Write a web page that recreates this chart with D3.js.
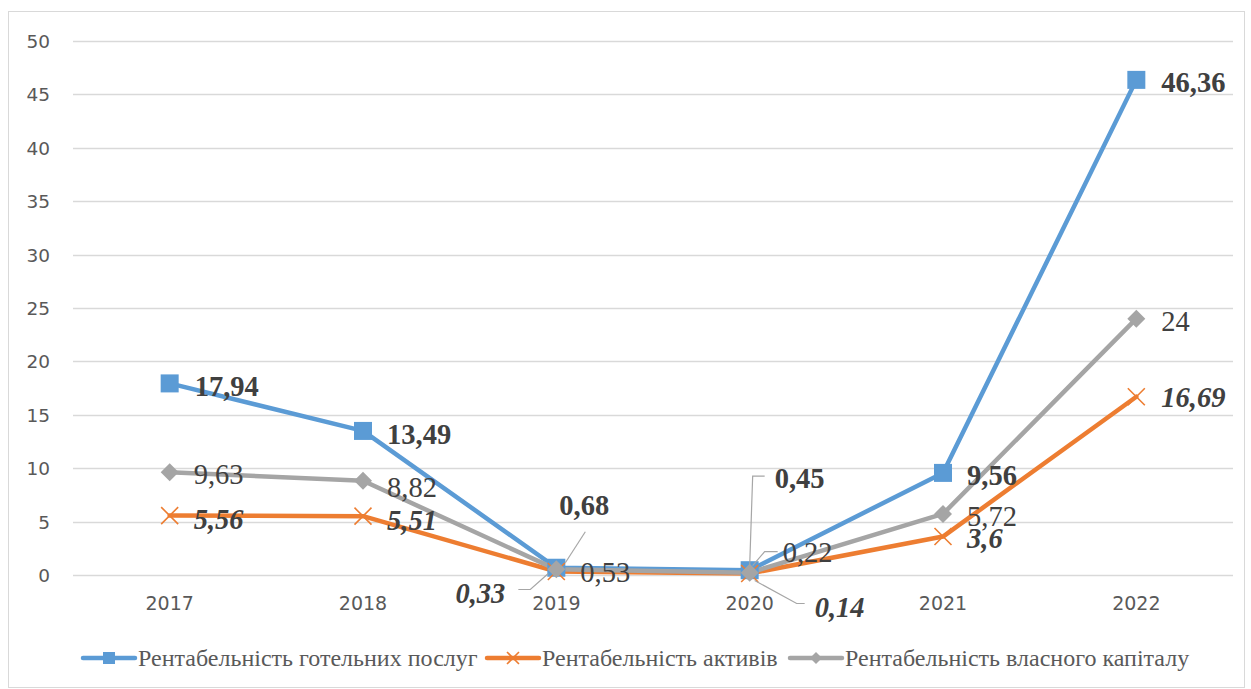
<!DOCTYPE html>
<html><head><meta charset="utf-8">
<script src="https://cdn.jsdelivr.net/npm/d3@7"></script>
<style>body{margin:0;background:#fff}svg{display:block}</style>
</head><body>
<svg id="c" width="1251" height="689"></svg>
<script>
const categories = ["2017","2018","2019","2020","2021","2022"];
const hotelValues = [17.94, 13.49, 0.68, 0.45, 9.56, 46.36];
const assetValues = [5.56, 5.51, 0.33, 0.14, 3.6, 16.69];
const equityValues = [9.63, 8.82, 0.53, 0.22, 5.72, 24];
const seriesNames = ["Рентабельність готельних послуг","Рентабельність активів","Рентабельність власного капіталу"];
const yTicks = [0,5,10,15,20,25,30,35,40,45,50];

const svg = d3.select("#c");
svg.append("rect").attr("x",8.5).attr("y",11.5).attr("width",1236).attr("height",676)
  .attr("fill","#fff").attr("stroke","#d9d9d9").attr("stroke-width",1);

const x = d3.scaleBand().domain(categories).range([73,1233]).padding(0);
const y = d3.scaleLinear().domain([0,50]).range([575,41]);
const cx = c => x(c) + x.bandwidth()/2;

// gridlines
svg.append("g").selectAll("line").data(yTicks).join("line")
  .attr("x1",73).attr("x2",1233).attr("y1",d=>Math.round(y(d))+0.5).attr("y2",d=>Math.round(y(d))+0.5)
  .attr("stroke","#d9d9d9").attr("stroke-width",1.3);

// y axis labels
const yAxis = d3.axisLeft(y).tickValues(yTicks).tickSize(0).tickPadding(0).tickFormat(d3.format("d"));
const ga = svg.append("g").attr("transform","translate(50,0)").call(yAxis);
ga.select(".domain").remove();
ga.selectAll("text").attr("font-family","DejaVu Sans").attr("font-size",18.5).attr("fill","#595959").attr("dy","0.35em");

// x axis labels
const xAxis = d3.axisBottom(x).tickSize(0).tickPadding(0);
const gx = svg.append("g").attr("transform","translate(0,596)").call(xAxis);
gx.select(".domain").remove();
gx.selectAll("text").attr("font-family","DejaVu Sans").attr("font-size",19).attr("fill","#595959").attr("dy","0.71em");

const series = [
  {name:seriesNames[0], vals:hotelValues, color:"#5b9bd5", marker:"square", weight:"bold", style:"normal"},
  {name:seriesNames[1], vals:assetValues, color:"#ed7d31", marker:"x", weight:"bold", style:"italic"},
  {name:seriesNames[2], vals:equityValues, color:"#a5a5a5", marker:"diamond", weight:"normal", style:"normal"}
];
const line = d3.line().x((d,i)=>cx(categories[i])).y(d=>y(d));

function drawMarker(g, type, color, px, py, s){
  if(type==="square"){
    g.append("rect").attr("x",px-s/2).attr("y",py-s/2).attr("width",s).attr("height",s).attr("fill",color);
  } else if(type==="x"){
    const h=s/2;
    g.append("path").attr("d",`M${px-h},${py-h}L${px+h},${py+h}M${px-h},${py+h}L${px+h},${py-h}`)
      .attr("stroke",color).attr("stroke-width",1.6).attr("fill","none");
  } else {
    const h=s/2;
    g.append("path").attr("d",`M${px},${py-h}L${px+h},${py}L${px},${py+h}L${px-h},${py}Z`).attr("fill",color);
  }
}

const gl = svg.append("g");
series.forEach(s=>{
  gl.append("path").datum(s.vals).attr("d",line).attr("fill","none").attr("stroke",s.color)
    .attr("stroke-width",4.5).attr("stroke-linejoin","round").attr("stroke-linecap","round");
});
series.forEach(s=>{
  s.vals.forEach((v,i)=>drawMarker(gl, s.marker, s.color, cx(categories[i]), y(v), s.marker==="x"?17:18));
});

// data labels
const fmt = v => String(v).replace(".",",");
const labels = [];
series.forEach((s,si)=>{
  s.vals.forEach((v,i)=>{
    labels.push({si, i, v, s, dx:25, dy:2, anchor:"start", leader:null});
  });
});
function L(si,i){return labels.find(l=>l.si===si&&l.i===i);}
let p;
p=L(0,2); p.dx=3; p.dy=-63; p.leader=[[9,-5],[29,-36]];
p=L(1,2); p.dx=-51; p.dy=22; p.anchor="end"; p.leader=[[-8,2],[-26,18],[-38,18]];
p=L(2,2); p.dx=24; p.dy=3;
p=L(0,3); p.dx=25; p.dy=-92; p.leader=[[0,-4],[3,-94],[15,-94]];
p=L(2,3); p.dx=33; p.dy=-21; p.leader=[[3,-7],[15,-21],[28,-21]];
p=L(1,3); p.dx=65; p.dy=34; p.leader=[[5,7],[47,30],[55,30]];
p=L(0,4); p.dx=24; p.dy=2;
p=L(2,4); p.dx=24; p.dy=2;
p=L(1,4); p.dx=24; p.dy=1;
p=L(0,1); p.dx=24; p.dy=3;
p=L(2,1); p.dx=24; p.dy=6;
p=L(1,1); p.dx=24; p.dy=4;
p=L(0,0); p.dx=25; p.dy=3;
p=L(2,0); p.dx=24; p.dy=2;
p=L(1,0); p.dx=24; p.dy=3;
p=L(0,5); p.dx=25; p.dy=2;
p=L(2,5); p.dx=25; p.dy=2;
p=L(1,5); p.dx=25; p.dy=0;

const glab = svg.append("g");
labels.forEach(l=>{
  const px = cx(categories[l.i]), py = y(l.v);
  if(l.leader){
    glab.append("path").attr("d", "M"+l.leader.map(q=>[px+q[0],py+q[1]].join(",")).join("L"))
      .attr("fill","none").attr("stroke","#a6a6a6").attr("stroke-width",1.2);
  }
  glab.append("text").attr("x",px+l.dx).attr("y",py+l.dy).attr("dy","0.35em")
    .attr("text-anchor",l.anchor)
    .attr("font-family","Liberation Serif").attr("font-size",28.5)
    .attr("font-weight",l.s.weight).attr("font-style",l.s.style)
    .attr("fill","#404040").text(fmt(l.v));
});

// legend
const legendX = [83, 487, 790];
const lg = svg.append("g");
series.forEach((s,k)=>{
  const x0 = legendX[k], ly = 658;
  lg.append("line").attr("x1",x0).attr("x2",x0+52).attr("y1",ly).attr("y2",ly)
    .attr("stroke",s.color).attr("stroke-width",4.5).attr("stroke-linecap","round");
  drawMarker(lg, s.marker, s.color, x0+26, ly, 12);
  lg.append("text").attr("x",x0+55).attr("y",ly).attr("dy","0.35em")
    .attr("font-family","Liberation Serif").attr("font-size",24).attr("fill","#595959").text(s.name);
});
</script>
</body></html>
